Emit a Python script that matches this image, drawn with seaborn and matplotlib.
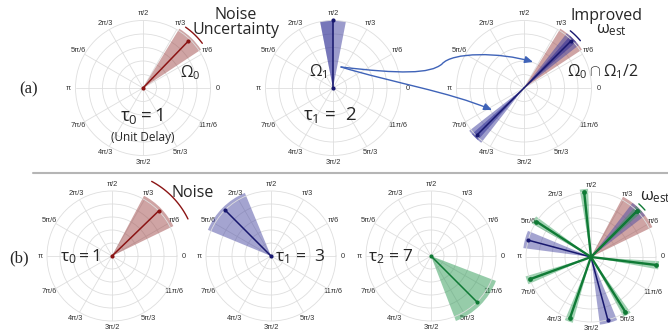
import numpy as np
import matplotlib
matplotlib.use("Agg")
import matplotlib.pyplot as plt
import seaborn as sns
import pandas as pd
from matplotlib.path import Path
from matplotlib.patches import FancyArrowPatch
from matplotlib.lines import Line2D

# ---------------- data ----------------
tick_angles_deg = [0, 30, 60, 90, 120, 150, 180, 210, 240, 270, 300, 330]
tick_labels = ['0', 'π/6', 'π/3', 'π/2', '2π/3', '5π/6', 'π',
               '7π/6', '4π/3', '3π/2', '5π/3', '11π/6']

# row (a)
a_tau = [1, 2]
a_phase_deg = [46, 90]
a_noise_half_deg = [12.5, 11]
a_improved_deg = [45, 225]
a_improved_half_deg = [7, 3.5]

# row (b)
b_tau = [1, 3, 7]
b_phase_deg = [44, 135, 315]
b_noise_half_deg = [18, 22.5, 24]
b_cand_tau1_deg = [45, 165, 285]
b_cand_tau1_half_deg = 7.5
b_cand_tau2_deg = [45, 96, 147, 200, 251, 302, 353]
b_cand_tau2_half_deg = 3.5

# ---------------- style ----------------
sns.set_style("white")
plt.rcParams['font.family'] = ['Open Sans', 'DejaVu Sans']
plt.rcParams['mathtext.fontset'] = 'custom'
plt.rcParams['mathtext.rm'] = 'Open Sans'
plt.rcParams['mathtext.it'] = 'Open Sans'
plt.rcParams['mathtext.bf'] = 'Open Sans:bold'

RED_D, RED_L = '#8b1414', '#a04a4a'
BLU_D, BLU_L = '#17176e', '#4b4ba3'
GRN_D, GRN_L = '#0f7a35', '#2e9a55'

W, H = 668, 335
fig = plt.figure(figsize=(W / 100, H / 100), dpi=100)


def polar_ax(cx, cy, r):
    w, h = 2 * r / W, 2 * r / H
    ax = fig.add_axes([cx / W - w / 2, 1 - cy / H - h / 2, w, h], projection='polar')
    ax.set_facecolor('none')
    return ax


def finish(ax):
    ax.set_ylim(0, 1)
    ax.set_yticks([0.2, 0.4, 0.6, 0.8])
    ax.set_yticklabels([])
    ax.set_xticks(np.deg2rad(tick_angles_deg))
    ax.set_xticklabels(tick_labels, fontsize=5.3, color='#333333',
                       family=['Liberation Sans', 'DejaVu Sans'])
    ax.tick_params(axis='x', pad=-5.5)
    ax.grid(True, color='#dedede', lw=0.6)
    ax.spines['polar'].set_color('#dedede')
    ax.spines['polar'].set_linewidth(0.6)
    ax.set_xlabel('')
    ax.set_ylabel('')


def wedge(ax, ang, half, color, alpha, r=1.03):
    ax.bar(np.deg2rad(ang), r, width=np.deg2rad(2 * half), bottom=0,
           color=color, alpha=alpha, lw=0, clip_on=False, zorder=1)


def ray(ax, ang, r, color, lw=1.1, s=9, center=False):
    df = pd.DataFrame({'theta': [np.deg2rad(ang)] * 2, 'r': [0.0, r]})
    sns.lineplot(data=df, x='theta', y='r', ax=ax, color=color, lw=lw,
                 estimator=None, sort=False, zorder=3)
    pts = df.iloc[[1]] if not center else df
    sns.scatterplot(data=pts, x='theta', y='r', ax=ax, color=color, s=s,
                    edgecolor=color, linewidth=0, zorder=4, clip_on=False)


def arc(ax, a0, a1, r, color, lw=1.0):
    th = np.deg2rad(np.linspace(a0, a1, 40))
    ax.plot(th, np.full_like(th, r), color=color, lw=lw, clip_on=False)


def ftext(x, y, s, size, ha='left', va='baseline', **kw):
    fig.text(x / W, 1 - y / H, s, fontsize=size, ha=ha, va=va, **kw)


# ---------------- row (a) ----------------
ax1 = polar_ax(143, 88, 67.5)
wedge(ax1, a_phase_deg[0], a_noise_half_deg[0], RED_L, 0.5, 1.03)
ray(ax1, a_phase_deg[0], 0.97, RED_D, center=True)
arc(ax1, 37, 55, 1.1, RED_D)
finish(ax1)

ax2 = polar_ax(333, 88, 67.5)
wedge(ax2, a_phase_deg[1], a_noise_half_deg[1], BLU_L, 0.55, 1.0)
wedge(ax2, a_phase_deg[1] + a_noise_half_deg[1] / 2, a_noise_half_deg[1] / 2, '#202090', 0.3, 1.0)
ray(ax2, a_phase_deg[1], 1.0, BLU_D, center=True)
finish(ax2)

ax3 = polar_ax(524, 88, 67.5)
wedge(ax3, a_phase_deg[0], a_noise_half_deg[0], RED_L, 0.5, 1.03)
for ang in a_improved_deg:
    wedge(ax3, ang, a_improved_half_deg[0], BLU_L, 0.55, 1.03)
    wedge(ax3, ang, a_improved_half_deg[1], '#202090', 0.45, 1.03)
    ray(ax3, ang, 0.98, BLU_D)
arc(ax3, 40, 51, 1.09, BLU_D)
finish(ax3)

# ---------------- row (b) ----------------
ax4 = polar_ax(112, 256, 65)
wedge(ax4, b_phase_deg[0], b_noise_half_deg[0], RED_L, 0.5, 1.05)
ray(ax4, b_phase_deg[0], 1.0, RED_D, center=True)
arc(ax4, 26, 62, 1.3, RED_D)
finish(ax4)

ax5 = polar_ax(271, 256, 65)
wedge(ax5, b_phase_deg[1], b_noise_half_deg[1], BLU_L, 0.5, 1.05)
ray(ax5, b_phase_deg[1], 1.0, BLU_D, center=True)
finish(ax5)

ax6 = polar_ax(431, 256, 65)
wedge(ax6, b_phase_deg[2], b_noise_half_deg[2], GRN_L, 0.5, 1.07)
ray(ax6, b_phase_deg[2], 1.0, GRN_D, center=True)
finish(ax6)

ax7 = polar_ax(591, 257, 65)
wedge(ax7, b_phase_deg[0], b_noise_half_deg[0], RED_L, 0.5, 1.05)
for ang in b_cand_tau1_deg:
    wedge(ax7, ang, b_cand_tau1_half_deg, BLU_L, 0.5, 1.05)
    ray(ax7, ang, 1.0, BLU_D)
for ang in b_cand_tau2_deg:
    wedge(ax7, ang, b_cand_tau2_half_deg, GRN_L, 0.45, 1.05)
    ray(ax7, ang, 1.0, GRN_D, lw=1.7, s=12)
arc(ax7, 41, 48, 1.1, GRN_D)
finish(ax7)

# ---------------- annotations ----------------
ftext(29, 89, '(a)', 12, ha='center', va='center', family=['Liberation Serif'])
ftext(19, 258, '(b)', 12, ha='center', va='center', family=['Liberation Serif'])

ftext(215, 19, 'Noise', 11.5)
ftext(193, 34, 'Uncertainty', 11.5)
ftext(180, 77, r'$\Omega_0$', 11.5)
ftext(120, 121, r'$\tau_0 = 1$', 13.5)
ftext(143, 137, '(Unit Delay)', 8.5, ha='center', va='center')

ftext(309, 76, r'$\Omega_1$', 11.5)
ftext(303, 120, r'$\tau_1$' + ' =  2', 13.5)

ftext(570, 20, 'Improved', 11.5)
ftext(596, 33, r'$\omega_{\mathrm{est}}$', 12)
ftext(567, 76, r'$\Omega_0 \cap \Omega_1/2$', 11.5)

ftext(60, 261, r'$\tau_0 = 1$', 12.5)
ftext(172, 197, 'Noise', 11.5)
ftext(275, 261, r'$\tau_1$' + ' =  3', 12.5)
ftext(368, 261, r'$\tau_2$' + ' = 7', 12.5)
ftext(640, 200, r'$\omega_{\mathrm{est}}$', 12)

# separator line
fig.add_artist(Line2D([33 / W, 1.0], [1 - 173 / H] * 2, color='#b5b5b5', lw=1.5,
                      transform=fig.transFigure))


def fp(x, y):
    return (x / W, 1 - y / H)


p1 = Path([fp(341, 67), fp(400, 74), fp(430, 74), fp(442, 64),
           fp(452, 52), fp(500, 52), fp(533, 62)],
          [Path.MOVETO] + [Path.CURVE4] * 6)
p2 = Path([fp(341, 67), fp(390, 82), fp(450, 92), fp(492, 110)],
          [Path.MOVETO] + [Path.CURVE4] * 3)
for p in (p1, p2):
    fa = FancyArrowPatch(path=p, arrowstyle='-|>,head_length=0.8,head_width=0.35',
                         mutation_scale=6, color='#3f63b8', lw=1.0,
                         transform=fig.transFigure)
    fig.add_artist(fa)

fig.savefig('out.png', dpi=100)
